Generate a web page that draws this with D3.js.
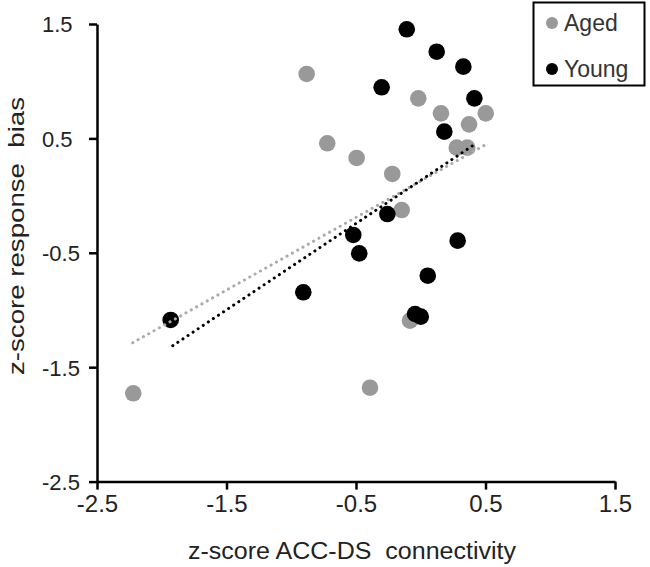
<!DOCTYPE html>
<html>
<head>
<meta charset="utf-8">
<script src="https://cdn.jsdelivr.net/npm/d3@7"></script>
<style>
  html, body { margin: 0; padding: 0; background: #fff; }
  svg { display: block; font-family: "Liberation Sans", Arial, sans-serif; }
</style>
</head>
<body>
<svg id="chart" width="650" height="567"></svg>
<script>
// ---- data ----
const agedX = [-0.881, -0.722, -0.495, -0.019, 0.502, 0.156, 0.373, 0.278, 0.359, -0.22, -0.147, -0.083, -0.392, -2.22];
const agedY = [1.063, 0.457, 0.329, 0.85, 0.719, 0.719, 0.623, 0.419, 0.419, 0.189, -0.126, -1.093, -1.679, -1.728];
const youngX = [-0.108, 0.123, 0.329, -0.302, 0.414, 0.182, -0.258, -0.521, 0.285, -0.475, 0.054, -0.044, 0.0, -0.907, -1.931];
const youngY = [1.454, 1.258, 1.127, 0.947, 0.85, 0.559, -0.161, -0.344, -0.394, -0.505, -0.70, -1.035, -1.058, -0.845, -1.087];
const agedFitX = [-2.224, 0.509];
const agedFitY = [-1.286, 0.451];
const youngFitX = [-1.915, 0.401];
const youngFitY = [-1.312, 0.436];
const xTicks = [-2.5, -1.5, -0.5, 0.5, 1.5];
const yTicks = [-2.5, -1.5, -0.5, 0.5, 1.5];
const seriesNames = ["Aged", "Young"];
const seriesColors = ["#999999", "#000000"];
const xTitle = "z-score ACC-DS  connectivity";
const yTitle = "z-score response  bias";

// ---- scales ----
const svg = d3.select("#chart");
const x = d3.scaleLinear().domain([-2.5, 1.5]).range([97, 615]);
const y = d3.scaleLinear().domain([-2.5, 1.5]).range([481.6, 24]);

// ---- axes ----
const xAxis = d3.axisBottom(x).tickValues(xTicks).tickSize(8).tickSizeOuter(0).tickFormat(d3.format(".1f"));
const yAxis = d3.axisLeft(y).tickValues(yTicks).tickSize(8).tickSizeOuter(0).tickFormat(d3.format(".1f"));

const gx = svg.append("g").attr("transform", `translate(0,${y(-2.5)})`).call(xAxis);
gx.select(".domain").attr("stroke", "#000").attr("stroke-width", 2.5);
gx.selectAll(".tick line").attr("stroke", "#000").attr("stroke-width", 2.5);
gx.selectAll(".tick text")
  .attr("font-size", 24).attr("fill", "#222").attr("y", 13).attr("dy", "0.71em")
  .style("font-family", "Liberation Sans, Arial, sans-serif")
  .text(d => d3.format(".1f")(d).replace("−", "-"));

const gy = svg.append("g").attr("transform", `translate(${x(-2.5)},0)`).call(yAxis);
gy.select(".domain").attr("stroke", "#000").attr("stroke-width", 2.5);
gy.selectAll(".tick line").attr("stroke", "#000").attr("stroke-width", 2.5);
gy.selectAll(".tick text")
  .attr("font-size", 22).attr("fill", "#222")
  .attr("text-anchor", "start").attr("x", 42 - x(-2.5)).attr("dy", "0.36em")
  .style("font-family", "Liberation Sans, Arial, sans-serif")
  .text(d => d3.format(".1f")(d).replace("−", "-"));

// ---- axis titles ----
svg.append("text")
  .attr("x", 352).attr("y", 559)
  .attr("text-anchor", "middle")
  .attr("font-size", 23).attr("fill", "#222")
  .attr("textLength", 328).attr("lengthAdjust", "spacingAndGlyphs")
  .style("white-space", "pre")
  .text(xTitle);

svg.append("text")
  .attr("transform", "translate(24,236) rotate(-90)")
  .attr("text-anchor", "middle")
  .attr("font-size", 22).attr("fill", "#222")
  .attr("textLength", 278).attr("lengthAdjust", "spacingAndGlyphs")
  .style("white-space", "pre")
  .text(yTitle);

// ---- points ----
const aged = agedX.map((v, i) => ({ x: v, y: agedY[i] }));
const young = youngX.map((v, i) => ({ x: v, y: youngY[i] }));

svg.append("g").selectAll("circle").data(aged).join("circle")
  .attr("cx", d => x(d.x)).attr("cy", d => y(d.y)).attr("r", 8.3)
  .attr("fill", seriesColors[0]);

svg.append("g").selectAll("circle").data(young).join("circle")
  .attr("cx", d => x(d.x)).attr("cy", d => y(d.y)).attr("r", 8.3)
  .attr("fill", seriesColors[1]);

// ---- trend lines ----
const line = d3.line().x(d => x(d[0])).y(d => y(d[1]));
svg.append("path")
  .datum(agedFitX.map((v, i) => [v, agedFitY[i]]))
  .attr("d", line).attr("fill", "none")
  .attr("stroke", "#aaaaaa").attr("stroke-width", 3)
  .attr("stroke-linecap", "round").attr("stroke-dasharray", "0.1 6");
svg.append("path")
  .datum(youngFitX.map((v, i) => [v, youngFitY[i]]))
  .attr("d", line).attr("fill", "none")
  .attr("stroke", "#000").attr("stroke-width", 3)
  .attr("stroke-linecap", "round").attr("stroke-dasharray", "0.1 6");

// ---- legend ----
const lg = svg.append("g");
lg.append("rect").attr("x", 533.5).attr("y", 2.5).attr("width", 111).attr("height", 83)
  .attr("fill", "#fff").attr("stroke", "#000").attr("stroke-width", 2);
const items = lg.selectAll("g.item").data(seriesNames).join("g").attr("class", "item")
  .attr("transform", (d, i) => `translate(552,${23 + i * 46})`);
items.append("circle").attr("r", 6).attr("fill", (d, i) => seriesColors[i]);
items.append("text").attr("x", 12).attr("dy", "0.36em")
  .attr("font-size", 23).attr("fill", "#333").text(d => d);
</script>
</body>
</html>
